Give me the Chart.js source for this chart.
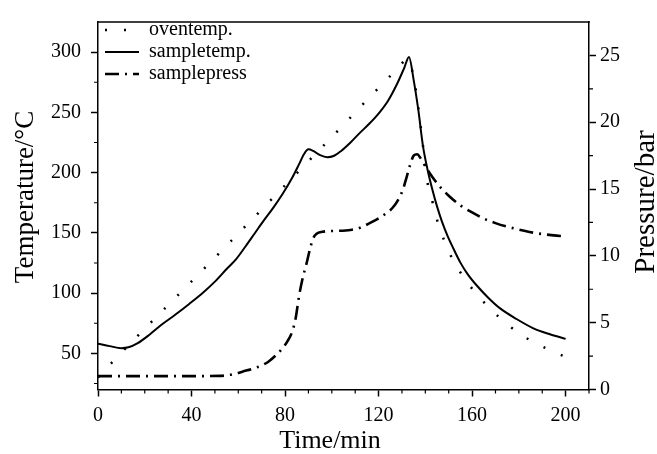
<!DOCTYPE html>
<html><head><meta charset="utf-8">
<script src="https://cdn.jsdelivr.net/npm/chart.js@4/dist/chart.umd.min.js"></script>
<style>html,body{margin:0;padding:0;background:#fff}#wrap{width:657px;height:454px}</style>
</head><body><div id="wrap"><canvas id="c" width="657" height="454"></canvas></div>
<script>
// ---- data ----
const ovenTime = [0, 6, 47.5, 99, 127.5, 132.5, 135, 137, 139, 140.8, 142.5, 143.8, 145.6, 147.8, 150.3, 153.7, 157.9, 162.9, 168.7, 175, 181.2, 187.6, 193.9, 200];
const ovenTemp = [30, 42.5, 124.5, 227.5, 285, 294, 279, 254, 222, 193, 180.8, 169.1, 157.2, 145, 133.4, 121.2, 109, 97.1, 85.2, 74.3, 65.1, 58.1, 52.1, 47];

const sampleTime = [0, 5, 10, 13, 17, 22, 27, 33, 39, 45, 50, 55, 59, 63, 67, 71, 75, 79, 83, 86, 88, 90, 92, 95, 98, 101, 104, 108, 112, 116, 120, 124, 128, 131, 133, 135, 137, 139, 141, 143, 145, 147, 149.5, 152, 155, 158, 162, 167, 172, 179, 186, 193, 200];
const sampleTemp = [58, 56, 54.3, 55, 58.5, 65.5, 73.5, 82, 91, 100.5, 109.5, 120, 128, 138.5, 149.5, 160.5, 171, 182.5, 195.5, 207, 215, 219.3, 218, 214.5, 212.8, 214, 218, 225, 233, 240.5, 249, 259.5, 274, 287, 296, 277, 252, 222, 202, 186, 172, 160, 147.5, 137, 125.3, 116, 106.3, 96, 87.3, 78.5, 71, 66, 62];

const pressTime = [0, 20, 40, 52, 58, 62, 66, 70, 73, 76, 79, 81, 83, 84.5, 86, 87.5, 89, 90.8, 92, 93.5, 96, 100, 108, 112, 116, 120, 123, 126, 128.6, 130.5, 132, 133.5, 135, 136.5, 138, 140, 143, 146.5, 150, 155, 160, 165, 170, 175, 180, 186, 193, 200];
const pressVal = [1, 1, 1, 1.02, 1.15, 1.35, 1.55, 1.8, 2.1, 2.55, 3.1, 3.6, 4.3, 5.3, 7.0, 8.3, 9.3, 10.6, 11.3, 11.65, 11.8, 11.86, 11.94, 12.1, 12.43, 12.8, 13.15, 13.6, 14.26, 15.0, 15.9, 16.8, 17.5, 17.6, 17.3, 16.7, 15.9, 15.12, 14.5, 13.77, 13.25, 12.79, 12.45, 12.18, 11.97, 11.74, 11.57, 11.45];

const seriesNames = ['oventemp.', 'sampletemp.', 'samplepress'];
const axisTitles = { x: 'Time/min', y: 'Temperature/°C', y2: 'Pressure/bar' };
const xMinorTicks = [10, 20, 30, 50, 60, 70, 90, 100, 110, 130, 140, 150, 170, 180, 190, 210];
const yMinorTicks = [25, 75, 125, 175, 225, 275];
const y2MinorTicks = [2.5, 7.5, 12.5, 17.5, 22.5];

const FONT = "'Liberation Serif', 'Times New Roman', serif";
const pts = (xs, ys) => xs.map((x, i) => ({x, y: ys[i]}));

const deco = {
  id: 'deco',
  beforeDraw(chart) {
    const lg = chart.legend, a = chart.chartArea;
    if (lg) { lg.left = a.left + 5; lg.top = a.top - 4; }
  },
  afterDraw(chart) {
    const ctx = chart.ctx, a = chart.chartArea;
    const sx = chart.scales.x, sy = chart.scales.y, sy2 = chart.scales.y2;
    ctx.save();
    ctx.strokeStyle = '#000';
    ctx.lineWidth = 1.5;
    ctx.beginPath();
    ctx.moveTo(a.left - 0.75, a.top); ctx.lineTo(a.right + 0.75, a.top);
    ctx.stroke();
    ctx.lineWidth = 1.2;
    ctx.beginPath();
    xMinorTicks.forEach(v => { const p = sx.getPixelForValue(v); ctx.moveTo(p, a.bottom); ctx.lineTo(p, a.bottom + 4); });
    yMinorTicks.forEach(v => { const p = sy.getPixelForValue(v); ctx.moveTo(a.left, p); ctx.lineTo(a.left - 4, p); });
    y2MinorTicks.forEach(v => { const p = sy2.getPixelForValue(v); ctx.moveTo(a.right, p); ctx.lineTo(a.right + 4, p); });
    ctx.stroke();
    // axis titles
    ctx.fillStyle = '#000';
    ctx.textAlign = 'center';
    ctx.textBaseline = 'alphabetic';
    ctx.font = '26px ' + FONT;
    ctx.fillText(axisTitles.x, 330, 448);
    ctx.save();
    ctx.font = '27px ' + FONT;
    ctx.translate(33, 197);
    ctx.rotate(-Math.PI / 2);
    ctx.fillText(axisTitles.y, 0, 0);
    ctx.restore();
    ctx.save();
    ctx.font = '29px ' + FONT;
    ctx.translate(654, 202);
    ctx.rotate(-Math.PI / 2);
    ctx.fillText(axisTitles.y2, 0, 0);
    ctx.restore();
    ctx.restore();
  }
};

Chart.defaults.color = '#000';
Chart.defaults.font.family = FONT;

new Chart(document.getElementById('c'), {
  type: 'line',
  data: {
    datasets: [
      { label: seriesNames[0], data: pts(ovenTime, ovenTemp), yAxisID: 'y', borderColor: '#000', backgroundColor: '#000',
        borderWidth: 2.5, borderDash: [2, 17], pointRadius: 0, cubicInterpolationMode: 'monotone', fill: false },
      { label: seriesNames[1], data: pts(sampleTime, sampleTemp), yAxisID: 'y', borderColor: '#000', backgroundColor: '#000',
        borderWidth: 2, pointRadius: 0, cubicInterpolationMode: 'monotone', fill: false },
      { label: seriesNames[2], data: pts(pressTime, pressVal), yAxisID: 'y2', borderColor: '#000', backgroundColor: '#000',
        borderWidth: 2.6, borderDash: [14, 6, 2, 6], pointRadius: 0, cubicInterpolationMode: 'monotone', fill: false }
    ]
  },
  options: {
    responsive: false,
    animation: false,
    layout: { padding: { top: 15, left: 0, right: 0, bottom: 0 } },
    plugins: {
      legend: {
        position: 'chartArea', align: 'start',
        labels: {
          usePointStyle: true, pointStyleWidth: 34, padding: 2, color: '#000', font: { family: FONT, size: 20 },
          generateLabels(chart) {
            const items = Chart.defaults.plugins.legend.labels.generateLabels(chart);
            items.forEach(it => {
              const ds = chart.data.datasets[it.datasetIndex];
              it.pointStyle = 'line';
              it.lineDash = ds.borderDash || [];
              it.lineWidth = ds.borderWidth;
              it.strokeStyle = '#000';
              it.fillStyle = '#000';
            });
            return items;
          }
        }
      },
      tooltip: { enabled: false }
    },
    scales: {
      x: {
        type: 'linear', position: 'bottom', min: 0, max: 210,
        ticks: { stepSize: 40, includeBounds: false, padding: 7, color: '#000', font: { family: FONT, size: 20 }, maxRotation: 0 },
        grid: { drawOnChartArea: false, tickLength: 7, tickColor: '#000', tickWidth: 1.5 },
        border: { color: '#000', width: 1.5 },
        afterFit(s) { s.height = 64.5; }
      },
      y: {
        type: 'linear', position: 'left', min: 20, max: 325,
        ticks: { stepSize: 50, includeBounds: false, padding: 10, color: '#000', font: { family: FONT, size: 20 } },
        grid: { drawOnChartArea: false, tickLength: 7, tickColor: '#000', tickWidth: 1.5 },
        border: { color: '#000', width: 1.5 },
        afterFit(s) { s.width = 98; }
      },
      y2: {
        type: 'linear', position: 'right', min: 0, max: 27.5,
        ticks: { stepSize: 5, includeBounds: false, padding: 4, color: '#000', font: { family: FONT, size: 20 } },
        grid: { drawOnChartArea: false, tickLength: 7, tickColor: '#000', tickWidth: 1.5 },
        border: { color: '#000', width: 1.5 },
        afterFit(s) { s.width = 68; }
      }
    }
  },
  plugins: [deco]
});
</script>
</body></html>
